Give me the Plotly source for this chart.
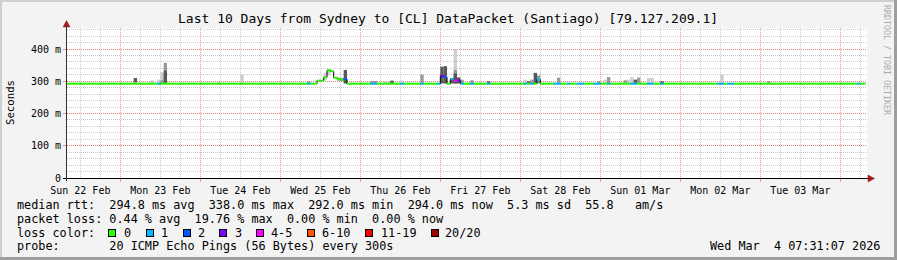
import pandas as pd
import plotly.graph_objects as go

# ---------------- data ----------------
START = pd.Timestamp("2026-02-22 08:00")
END = pd.Timestamp("2026-03-04 08:00")
DATA_END_HOURS = 239.5          # last sample (hours after START)

# median RTT as a step function: hour after START where it changes, value in ms
median_hours = [0, 75, 77, 78, 79, 80, 81, 82, 83, 84, 112, 113, 114, 115, 116, 118, 141, 142]
median_ms = [292.5, 302, 312, 334, 331, 311, 307, 304, 307, 292.5, 317, 313, 292.5, 306, 302.5, 292.5, 305, 292.5]

# hours with packet loss (pings lost out of 20)
loss_hours = [27, 72, 83, 91, 92, 100, 106, 111, 112, 113, 115, 116, 117, 118, 121, 126, 137, 139,
              141, 146, 147, 150, 153, 154, 158, 159, 162, 169, 170, 174, 175, 178, 195, 196, 198, 199, 237]
loss_counts = [1, 1, 2, 1, 1, 1, 1, 1, 3, 2, 1, 4, 3, 1, 1, 1, 1, 1,
               1, 1, 1, 1, 1, 1, 1, 1, 1, 1, 1, 1, 1, 1, 1, 1, 1, 1, 1]

# smoke (spread of the 20 pings), three shades
smoke_light_hours = [25, 27, 28, 45, 52, 77, 78, 95, 96, 100, 116, 137, 161, 168, 169, 174, 175, 196]
smoke_light_lo = [293, 293, 293, 293, 293, 303, 318, 293, 293, 293, 293, 293, 293, 293, 293, 293, 293, 293]
smoke_light_hi = [303, 305, 328, 299, 321, 325, 338, 300, 300, 302, 399, 305, 305, 305, 313, 310, 310, 321]

smoke_mid_hours = [28, 29, 72, 81, 82, 91, 92, 106, 116, 118, 121, 139, 141, 147, 159, 162, 167, 171, 210]
smoke_mid_lo = [293, 293, 293, 302, 300, 293, 293, 293, 293, 293, 293, 293, 293, 293, 293, 293, 293, 293, 293]
smoke_mid_hi = [303, 357, 300, 312, 310, 301, 301, 320, 335, 305, 303, 305, 318, 311, 300, 313, 303, 311, 300]

smoke_dark_hours = [20, 29, 83, 97, 112, 113, 115, 116, 117, 126, 138, 140, 170, 178]
smoke_dark_lo = [296, 293, 293, 293, 293, 293, 293, 293, 293, 293, 293, 293, 293, 293]
smoke_dark_hi = [310, 333, 335, 302, 345, 347, 310, 324, 312, 300, 300, 326, 305, 300]

loss_labels = ["0", "1", "2", "3", "4-5", "6-10", "11-19", "20/20"]
loss_colors = ["#26ff00", "#00b8ff", "#0059ff", "#7e00ff", "#ff00ff", "#ff5500", "#ff0000", "#a10000"]

y_tickvals = [0, 100, 200, 300, 400]
y_ticktext = ["0", "100 m", "200 m", "300 m", "400 m"]

title = "Last 10 Days from Sydney to [CL] DataPacket (Santiago) [79.127.209.1]"
legend_lines = [
    "median rtt:  294.8 ms avg  338.0 ms max  292.0 ms min  294.0 ms now  5.3 ms sd  55.8   am/s",
    "packet loss: 0.44 % avg  19.76 % max  0.00 % min  0.00 % now",
    "loss color:",
    "probe:       20 ICMP Echo Pings (56 Bytes) every 300s",
]
timestamp = "Wed Mar  4 07:31:07 2026"
watermark = "RRDTOOL / TOBI OETIKER"

# ---------------- geometry ----------------
W, H = 897, 260
L, R, T, B = 67, 30, 28, 82
PW, PH = W - L - R, H - T - B
Y_MAX = PH / 0.3225

def fx(px):
    return (px - L) / PW

def fy(py):
    return (T + PH - py) / PH

def at(h):
    return START + pd.Timedelta(hours=h)

def loss_class(c):
    if c <= 3:
        return c
    if c <= 5:
        return 4
    if c <= 10:
        return 5
    if c <= 19:
        return 6
    return 7

def median_at(h):
    v = median_ms[0]
    for mh, mv in zip(median_hours, median_ms):
        if mh <= h:
            v = mv
    return v

fig = go.Figure()

# smoke
for hrs, lo, hi, col in [
    (smoke_light_hours, smoke_light_lo, smoke_light_hi, "#cdcdcd"),
    (smoke_mid_hours, smoke_mid_lo, smoke_mid_hi, "#999999"),
    (smoke_dark_hours, smoke_dark_lo, smoke_dark_hi, "#585858"),
]:
    fig.add_trace(go.Bar(
        x=[at(h + 0.5) for h in hrs],
        y=[b - a for a, b in zip(lo, hi)],
        base=lo,
        width=[3600 * 1000] * len(hrs),
        marker=dict(color=col, line=dict(width=0)),
        hoverinfo="skip",
    ))

# black step line for the median
fig.add_trace(go.Scatter(
    x=[at(h) for h in median_hours] + [at(DATA_END_HOURS)],
    y=median_ms + [median_ms[-1]],
    mode="lines", line=dict(color="#000000", width=1, shape="hv"),
    hoverinfo="skip",
))

# coloured median segments by loss
loss_map = dict(zip(loss_hours, loss_counts))
seg_x = {k: [] for k in range(len(loss_colors))}
seg_y = {k: [] for k in range(len(loss_colors))}
h = 0
while h < DATA_END_HOURS:
    h1 = min(h + 1, DATA_END_HOURS)
    k = loss_class(loss_map.get(h, 0))
    v = median_at(h)
    seg_x[k] += [at(h), at(h1), None]
    seg_y[k] += [v, v, None]
    h += 1
for k in range(len(loss_colors)):
    if seg_x[k]:
        fig.add_trace(go.Scatter(
            x=seg_x[k], y=seg_y[k], mode="lines",
            line=dict(color=loss_colors[k], width=2),
            connectgaps=False, hoverinfo="skip",
        ))

MONO = "DejaVu Sans Mono"
RED_GRID = "rgba(240,60,60,0.55)"
GREY_GRID = "rgba(150,150,150,0.5)"

fig.update_layout(
    width=W, height=H,
    margin=dict(l=L, r=R, t=T, b=B, pad=0),
    paper_bgcolor="#f3f3f3", plot_bgcolor="#ffffff",
    showlegend=False, barmode="overlay",
    font=dict(family=MONO, size=10, color="#000000"),
    xaxis=dict(
        type="date", range=[START, END],
        tick0="2026-02-22", dtick=86400000,
        tickformat="%a %d %b", ticklabelmode="period",
        showgrid=True, gridcolor=RED_GRID, griddash="1px,1px", gridwidth=1,
        ticks="outside", ticklen=3, tickcolor=RED_GRID,
        minor=dict(dtick=6 * 3600000, showgrid=True, gridcolor=GREY_GRID,
                   griddash="1px,1px", ticks=""),
        showline=False, zeroline=False,
        tickfont=dict(family=MONO, size=10, color="#000000"),
    ),
    yaxis=dict(
        range=[0, Y_MAX], tickmode="array", tickvals=y_tickvals, ticktext=y_ticktext,
        showgrid=True, gridcolor=RED_GRID, griddash="1px,1px", gridwidth=1,
        ticks="outside", ticklen=3, tickcolor=RED_GRID,
        minor=dict(tickmode="linear", tick0=0, dtick=20, showgrid=True,
                   gridcolor=GREY_GRID, griddash="1px,1px", ticks=""),
        showline=False, zeroline=False,
        tickfont=dict(family=MONO, size=10, color="#000000"),
    ),
)

shapes = []
# 3D border
shapes.append(dict(type="rect", xref="paper", yref="paper", x0=fx(0), x1=fx(W), y0=fy(0), y1=fy(2),
                   fillcolor="#cfcfcf", line=dict(width=0), layer="below"))
shapes.append(dict(type="rect", xref="paper", yref="paper", x0=fx(0), x1=fx(2), y0=fy(0), y1=fy(H),
                   fillcolor="#cfcfcf", line=dict(width=0), layer="below"))
shapes.append(dict(type="rect", xref="paper", yref="paper", x0=fx(0), x1=fx(W), y0=fy(H - 3), y1=fy(H),
                   fillcolor="#9e9e9e", line=dict(width=0), layer="below"))
shapes.append(dict(type="rect", xref="paper", yref="paper", x0=fx(W - 3), x1=fx(W), y0=fy(0), y1=fy(H),
                   fillcolor="#9e9e9e", line=dict(width=0), layer="below"))
# axes
shapes.append(dict(type="line", xref="paper", yref="paper", x0=fx(63), x1=fx(869), y0=fy(178.5), y1=fy(178.5),
                   line=dict(color="#000000", width=1)))
shapes.append(dict(type="line", xref="paper", yref="paper", x0=fx(66.5), x1=fx(66.5), y0=fy(181), y1=fy(24),
                   line=dict(color="#303030", width=1)))
ARROW = "#a01c1c"
shapes.append(dict(type="path", xref="paper", yref="paper",
                   path=f"M {fx(66.5)},{fy(20.5)} L {fx(63)},{fy(27)} L {fx(70)},{fy(27)} Z",
                   fillcolor=ARROW, line=dict(color=ARROW, width=0.5)))
shapes.append(dict(type="path", xref="paper", yref="paper",
                   path=f"M {fx(874.5)},{fy(178.5)} L {fx(868)},{fy(175)} L {fx(868)},{fy(182)} Z",
                   fillcolor=ARROW, line=dict(color=ARROW, width=0.5)))
fig.update_layout(shapes=shapes)

ann = []
ann.append(dict(text=title, x=fx(448), y=fy(19), xanchor="center", yanchor="middle",
                font=dict(family=MONO, size=13, color="#000000")))
ann.append(dict(text="Seconds", x=fx(10), y=fy(103), xanchor="center", yanchor="middle", textangle=-90,
                font=dict(family=MONO, size=10.7, color="#000000")))
ann.append(dict(text=watermark, x=fx(887), y=fy(60), xanchor="center", yanchor="middle", textangle=90,
                font=dict(family=MONO, size=8.3, color="#ababab")))
LEG_Y = [204.5, 218.5, 232.5, 246.5]
for line, yy in zip(legend_lines, LEG_Y):
    ann.append(dict(text=line.replace(" ", "&nbsp;"), x=fx(15.5), y=fy(yy), xanchor="left", yanchor="middle",
                    font=dict(family=MONO, size=11.8, color="#000000")))
ann.append(dict(text=timestamp.replace(" ", "&nbsp;"), x=fx(880.5), y=fy(246.5), xanchor="right", yanchor="middle",
                font=dict(family=MONO, size=11.8, color="#000000")))
box_x = [108.3, 145.7, 182.7, 219.3, 256, 306.7, 365, 430.7]
lab_x = [123.3, 160, 197, 234, 270.7, 321.7, 380, 444]
for lbl, col, bx, lx in zip(loss_labels, loss_colors, box_x, lab_x):
    ann.append(dict(text=" ", x=fx(bx), y=fy(232.5), xanchor="left", yanchor="middle",
                    width=6, height=6, bgcolor=col, bordercolor="#000000", borderwidth=1, borderpad=0,
                    showarrow=False, font=dict(size=4)))
    ann.append(dict(text=lbl, x=fx(lx - 0.5), y=fy(232.5), xanchor="left", yanchor="middle",
                    font=dict(family=MONO, size=11.8, color="#000000")))
for a in ann:
    a.setdefault("xref", "paper")
    a.setdefault("yref", "paper")
    a["showarrow"] = False
    a.setdefault("borderpad", 0)
fig.update_layout(annotations=ann)

fig.write_html("out.html")
